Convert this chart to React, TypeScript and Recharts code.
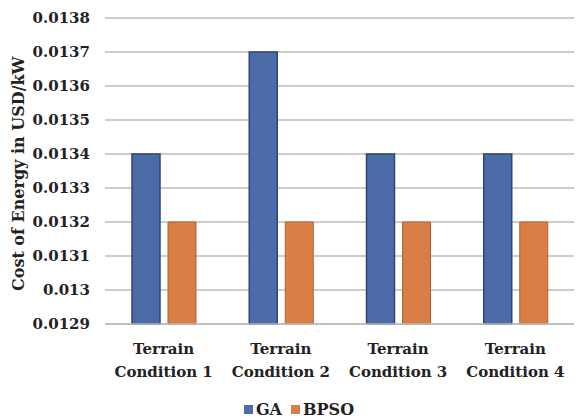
import { Bar, BarChart, CartesianGrid, Legend, XAxis, YAxis } from "recharts";

const conditions = ["Terrain Condition 1", "Terrain Condition 2", "Terrain Condition 3", "Terrain Condition 4"];
const gaCost = [0.0134, 0.0137, 0.0134, 0.0134];
const bpsoCost = [0.0132, 0.0132, 0.0132, 0.0132];
const yTicks = [0.0129, 0.013, 0.0131, 0.0132, 0.0133, 0.0134, 0.0135, 0.0136, 0.0137, 0.0138];

const seriesColors = { GA: "#4b6ca8", BPSO: "#da7e48" };

const chartData = conditions.map((name, i) => ({
  name,
  GA: gaCost[i],
  BPSO: bpsoCost[i],
}));

const font = "DejaVu Serif";

function TwoLineTick({ x, y, payload }: any) {
  const words = String(payload.value).split(" ");
  const first = words[0];
  const rest = words.slice(1).join(" ");
  return (
    <g transform={`translate(${x},${y})`}>
      <text textAnchor="middle" style={{ fontFamily: font, fontWeight: "bold", fontSize: 15 }} fill="#222">
        <tspan x={0} dy={22}>{first}</tspan>
        <tspan x={0} dy={23}>{rest}</tspan>
      </text>
    </g>
  );
}

function LegendBox() {
  const items = ["GA", "BPSO"] as const;
  return (
    <div style={{ display: "flex", justifyContent: "center", gap: 9, paddingLeft: 14, fontFamily: font, fontWeight: "bold", fontSize: 16, color: "#222" }}>
      {items.map((k) => (
        <span key={k} style={{ display: "flex", alignItems: "center", gap: 3 }}>
          <span style={{ width: 9, height: 9, background: seriesColors[k], display: "inline-block" }} />
          {k}
        </span>
      ))}
    </div>
  );
}

export default function App() {
  return (
    <div style={{ position: "absolute", left: 0, top: 0, background: "#fff", fontFamily: font }}>
      <BarChart
        width={586}
        height={419}
        data={chartData}
        margin={{ top: 18, right: 12, bottom: 0, left: 10 }}
        barGap={8}
        barSize={28}
        style={{ fontFamily: font }}
      >
        <CartesianGrid vertical={false} stroke="#bdbdbd" strokeWidth={1.5} />
        <XAxis
          dataKey="name"
          tick={<TwoLineTick />}
          tickLine={false}
          axisLine={{ stroke: "#bdbdbd", strokeWidth: 1.5 }}
          interval={0}
          height={76}
        />
        <YAxis
          domain={[0.0129, 0.0138]}
          ticks={yTicks}
          width={95}
          tickLine={false}
          axisLine={false}
          tickMargin={9}
          tick={{ fontWeight: "bold", fontSize: 15, fill: "#222", style: { fontFamily: font } }}
          label={{
            value: "Cost of Energy in USD/kW",
            angle: -90,
            position: "insideLeft",
            dx: 3,
            dy: 120,
            style: { fontFamily: font, fontWeight: "bold", fontSize: 16, fill: "#222" },
          }}
        />
        <Legend verticalAlign="bottom" content={<LegendBox />} />
        <Bar dataKey="GA" fill={seriesColors.GA} stroke="#2c4676" strokeWidth={1.5} isAnimationActive={false} />
        <Bar dataKey="BPSO" fill={seriesColors.BPSO} stroke="#b4602e" strokeWidth={1} isAnimationActive={false} />
      </BarChart>
    </div>
  );
}
